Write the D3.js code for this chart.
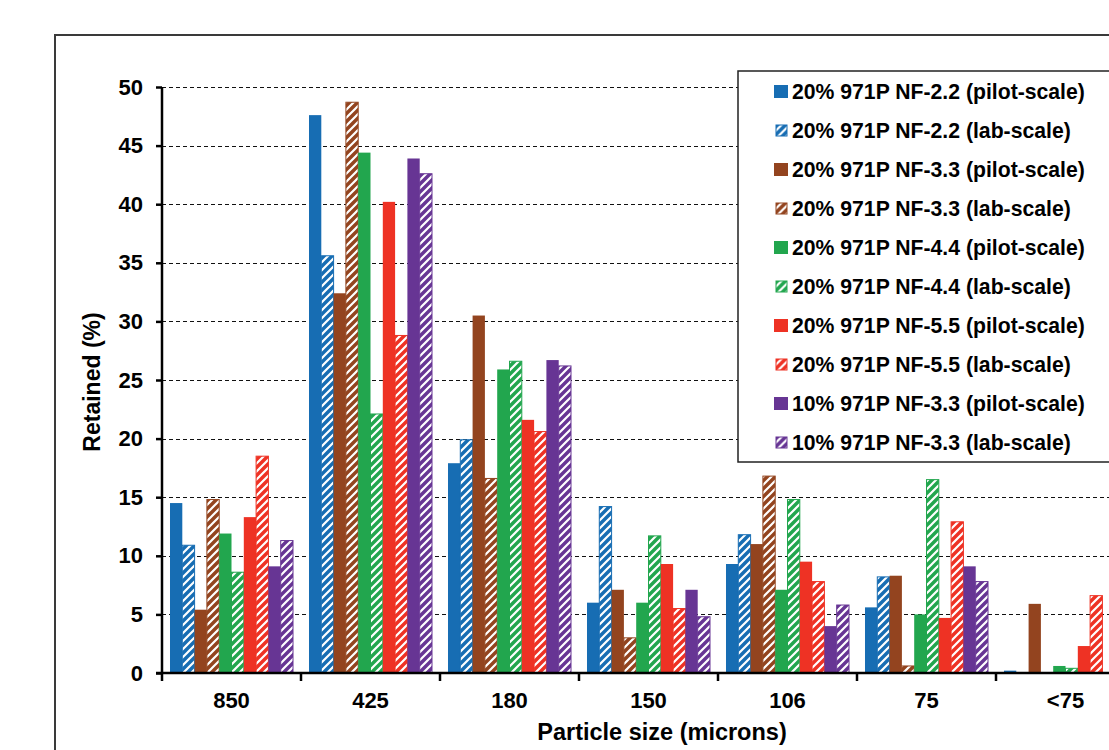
<!DOCTYPE html>
<html>
<head>
<meta charset="utf-8">
<script src="https://cdn.jsdelivr.net/npm/d3@7"></script>
<style>
  html, body { margin: 0; padding: 0; background: #fff; overflow: hidden; }
  svg { display: block; font-family: "Liberation Sans", Arial, sans-serif; }
</style>
</head>
<body>
<svg id="chart" width="1109" height="750"></svg>
<script>
// ---- data ----
const categories = ["850", "425", "180", "150", "106", "75", "<75"];
const seriesNames = [
  "20% 971P NF-2.2 (pilot-scale)",
  "20% 971P NF-2.2 (lab-scale)",
  "20% 971P NF-3.3 (pilot-scale)",
  "20% 971P NF-3.3 (lab-scale)",
  "20% 971P NF-4.4 (pilot-scale)",
  "20% 971P NF-4.4 (lab-scale)",
  "20% 971P NF-5.5 (pilot-scale)",
  "20% 971P NF-5.5 (lab-scale)",
  "10% 971P NF-3.3 (pilot-scale)",
  "10% 971P NF-3.3 (lab-scale)"
];
const hatched = [false, true, false, true, false, true, false, true, false, true];
const colors = ["#176db3", "#176db3", "#93441f", "#93441f", "#22a64e", "#22a64e",
                "#ee3224", "#ee3224", "#673594", "#673594"];
const nf22Pilot = [14.5, 47.6, 17.9, 6.0, 9.3, 5.6, 0.2];
const nf22Lab   = [10.9, 35.6, 19.9, 14.2, 11.8, 8.2, 0];
const nf33Pilot = [5.4, 32.4, 30.5, 7.1, 11.0, 8.3, 5.9];
const nf33Lab   = [14.8, 48.7, 16.6, 3.0, 16.8, 0.6, 0];
const nf44Pilot = [11.9, 44.4, 25.9, 6.0, 7.1, 5.0, 0.6];
const nf44Lab   = [8.6, 22.1, 26.6, 11.7, 14.8, 16.5, 0.4];
const nf55Pilot = [13.3, 40.2, 21.6, 9.3, 9.5, 4.7, 2.3];
const nf55Lab   = [18.5, 28.8, 20.6, 5.5, 7.8, 12.9, 6.6];
const p10Pilot  = [9.1, 43.9, 26.7, 7.1, 4.0, 9.1, 0];
const p10Lab    = [11.3, 42.6, 26.2, 4.8, 5.8, 7.8, 0];
const seriesValues = [nf22Pilot, nf22Lab, nf33Pilot, nf33Lab, nf44Pilot, nf44Lab,
                      nf55Pilot, nf55Lab, p10Pilot, p10Lab];
const yTicks = [0, 5, 10, 15, 20, 25, 30, 35, 40, 45, 50];

(function () {
// ---- layout ----
const svg = d3.select("#chart");
const plotL = 162, plotR = 1135, plotT = 87, plotB = 673;

const defs = svg.append("defs");
colors.forEach((c, i) => {
  if (!hatched[i]) return;
  const p = defs.append("pattern")
    .attr("id", "hatch" + i)
    .attr("patternUnits", "userSpaceOnUse")
    .attr("width", 8).attr("height", 8);
  p.append("rect").attr("width", 8).attr("height", 8).attr("fill", c);
  p.append("path")
    .attr("d", "M-1,9 L9,-1 M-2,2 L2,-2 M6,10 L10,6")
    .attr("stroke", "#fff").attr("stroke-width", 2.2);
});

// frame
svg.append("rect")
  .attr("x", 55).attr("y", 35).attr("width", 1080).attr("height", 760)
  .attr("fill", "#fff").attr("stroke", "#3a3a3a").attr("stroke-width", 2);

const x0 = d3.scaleBand().domain(categories).range([plotL, plotR]).padding(0);
const x1 = d3.scaleBand().domain(d3.range(seriesNames.length))
  .range([0, x0.bandwidth()]).paddingInner(0).paddingOuter(0.65);
const y = d3.scaleLinear().domain([0, 50]).range([plotB, plotT]);

// gridlines
svg.append("g").selectAll("line")
  .data(yTicks.filter(t => t > 0))
  .join("line")
  .attr("x1", plotL).attr("x2", 1115)
  .attr("y1", d => Math.round(y(d)) + 0.5).attr("y2", d => Math.round(y(d)) + 0.5)
  .attr("stroke", "#111").attr("stroke-width", 1.2)
  .attr("stroke-dasharray", "4,3");

// bars
const groups = svg.append("g").selectAll("g")
  .data(seriesNames.map((n, i) => ({ i, values: seriesValues[i] })))
  .join("g");
groups.selectAll("rect")
  .data(s => s.values.map((v, k) => ({ s: s.i, cat: categories[k], v })).filter(d => d.v > 0))
  .join("rect")
  .attr("x", d => x0(d.cat) + x1(d.s))
  .attr("y", d => y(d.v))
  .attr("width", x1.bandwidth())
  .attr("height", d => y(0) - y(d.v))
  .attr("fill", d => hatched[d.s] ? `url(#hatch${d.s})` : colors[d.s])
  .attr("stroke", d => hatched[d.s] ? colors[d.s] : "none")
  .attr("stroke-width", 1);

// y axis
const yAxis = d3.axisLeft(y).tickValues(yTicks).tickSize(6).tickPadding(13);
const yg = svg.append("g").attr("transform", `translate(${plotL},0)`).call(yAxis);
yg.select(".domain").attr("stroke", "#000").attr("stroke-width", 2.5)
  .attr("d", `M0,${plotT}V${plotB}`);
yg.selectAll(".tick line").attr("stroke", "#000").attr("stroke-width", 2.5);
yg.selectAll(".tick text").attr("fill", "#000")
  .style("font-size", "22px").style("font-weight", "bold");

// x axis
const xg = svg.append("g").attr("transform", `translate(0,${plotB})`);
xg.append("line").attr("x1", plotL - 6).attr("x2", plotR + 10)
  .attr("stroke", "#000").attr("stroke-width", 2.5);
const boundaries = categories.map(c => x0(c)).concat([plotR]);
xg.selectAll("line.tk").data(boundaries).join("line").attr("class", "tk")
  .attr("x1", d => d).attr("x2", d => d).attr("y1", 0).attr("y2", 8)
  .attr("stroke", "#000").attr("stroke-width", 2.5);
xg.selectAll("text").data(categories).join("text")
  .attr("x", d => x0(d) + x0.bandwidth() / 2)
  .attr("y", 35)
  .attr("text-anchor", "middle")
  .style("font-size", "22px").style("font-weight", "bold")
  .text(d => d);

// axis titles
svg.append("text")
  .attr("x", 662).attr("y", 740)
  .attr("text-anchor", "middle")
  .style("font-size", "23.5px").style("font-weight", "bold")
  .text("Particle size (microns)");
svg.append("text")
  .attr("transform", "translate(100,382) rotate(-90)")
  .attr("text-anchor", "middle")
  .style("font-size", "23px").style("font-weight", "bold")
  .text("Retained (%)");

// legend
const lg = svg.append("g");
lg.append("rect").attr("x", 738).attr("y", 71).attr("width", 380).attr("height", 391)
  .attr("fill", "#fff").attr("stroke", "#222").attr("stroke-width", 1.5);
const items = lg.selectAll("g.item").data(seriesNames).join("g")
  .attr("class", "item")
  .attr("transform", (d, i) => `translate(0,${91.5 + i * 39})`);
items.append("rect")
  .attr("x", (d, i) => hatched[i] ? 776 : 774)
  .attr("y", (d, i) => hatched[i] ? -5.5 : -6.5)
  .attr("width", (d, i) => hatched[i] ? 11 : 14)
  .attr("height", (d, i) => hatched[i] ? 11 : 13)
  .attr("fill", (d, i) => hatched[i] ? `url(#hatch${i})` : colors[i])
  .attr("stroke", (d, i) => hatched[i] ? colors[i] : "none");
items.append("text")
  .attr("x", 792).attr("y", 7.5)
  .style("font-size", "21.2px").style("font-weight", "bold")
  .text(d => d);
})();
</script>
</body>
</html>
